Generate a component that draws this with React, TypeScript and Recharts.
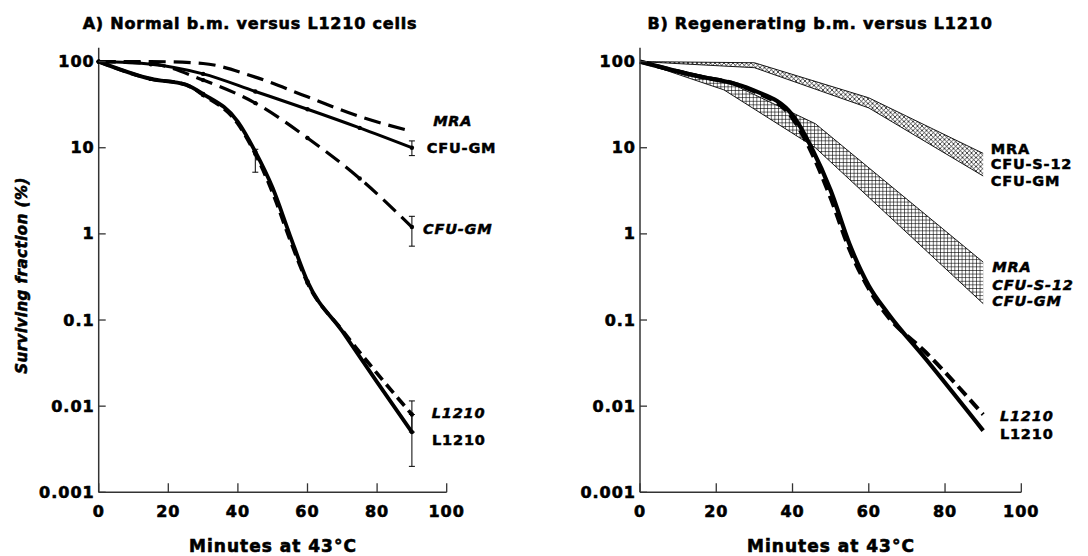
import React from 'react';
import { ComposedChart, Line, Area, XAxis, YAxis, ErrorBar, Scatter } from 'recharts';

// ---------- shared axis data ----------
const xTicks = [0, 20, 40, 60, 80, 100];
const xTickLabels = ['0', '20', '40', '60', '80', '100'];
const yTicks = [0.001, 0.01, 0.1, 1, 10, 100];
const yTickLabels = ['0.001', '0.01', '0.1', '1', '10', '100'];
const yDomain = [0.001, 145];

// ---------- Panel A: Normal b.m. versus L1210 cells ----------
const aTimesBM = [0, 15, 30, 45, 60, 75, 90];
const aMraDashed = [100, 100, 95, 66, 39, 23, 15.5];
const aCfuGmSolid = [100, 93, 72, 45, 28, 17, 10];
const aCfuGmSolidErr = [null, null, null, null, null, null, [8.1, 12]];
const aCfuGmDashed = [100, 95, 61, 33, 13, 4.4, 1.2];
const aCfuGmDashedErr = [null, null, null, null, null, null, [0.72, 1.6]];
const aTimesL1210 = [0, 15, 25, 30, 40, 45, 50, 55, 60, 70, 80, 90];
const aL1210Solid = [100, 63, 54, 42, 20, 9, 3.4, 0.95, 0.28, 0.074, 0.019, 0.005];
const aL1210SolidErr = [null, null, null, null, null, [5.2, 9.6], null, null, null, null, null, [0.002, 0.008]];
const aL1210Dashed = [100, 63, 54, 41, 19, 8.5, 3.0, 0.85, 0.27, 0.076, 0.024, 0.008];
const aL1210DashedErr = [null, null, null, null, null, null, null, null, null, null, null, [0.005, 0.0115]];

const aLabelText = ['MRA', 'CFU-GM', 'CFU-GM', 'L1210', 'L1210'];
const aLabelItalic = [true, false, true, true, false];
const aLabelX = [96.1, 94.3, 93.2, 95.7, 95.8];
const aLabelY = [20.3, 9.84, 1.14, 0.0083, 0.0041];

// ---------- Panel B: Regenerating b.m. versus L1210 ----------
const bUpperTimes = [0, 30, 60, 90];
const bUpperTop = [100, 97, 38, 8.6];
const bUpperBottom = [100, 85, 29, 4.7];
const bLowerTimes = [0, 22, 46, 90];
const bLowerTop = [100, 61, 19, 0.47];
const bLowerBottom = [100, 47, 10, 0.155];
const bTimesL1210 = [0, 15, 25, 30, 40, 45, 50, 55, 60, 65, 75, 90];
const bL1210Solid = [100, 68, 55, 46, 24, 10, 3.2, 0.75, 0.25, 0.12, 0.035, 0.0052];
const bL1210Dashed = [100, 68, 55, 45, 22, 8.8, 2.6, 0.65, 0.23, 0.11, 0.042, 0.008];

const bLabelText = ['MRA', 'CFU-S-12', 'CFU-GM', 'MRA', 'CFU-S-12', 'CFU-GM', 'L1210', 'L1210'];
const bLabelItalic = [false, false, false, true, true, true, true, false];
const bLabelX = [92.0, 92.0, 92.0, 92.4, 92.4, 92.4, 94.4, 94.4];
const bLabelY = [9.59, 6.44, 4.13, 0.41, 0.257, 0.168, 0.0077, 0.0047];

// ---------- builders ----------
type Bound = number[] | null;
const buildRows = (xs: number[], ys: number[], errs?: Bound[]) =>
  xs.map((x, i) => {
    const e = errs ? errs[i] : null;
    return { x, y: ys[i], err: e ? [ys[i] - e[0], e[1] - ys[i]] : undefined };
  });
const buildBand = (xs: number[], lo: number[], hi: number[]) =>
  xs.map((x, i) => ({ x, range: [lo[i], hi[i]] }));
const buildLabels = (t: string[], it: boolean[], xs: number[], ys: number[]) =>
  t.map((text, i) => ({ text, italic: it[i], x: xs[i], y: ys[i] }));

const FONT = '"DejaVu Sans", "Liberation Sans", Arial, sans-serif';
const AXIS_COLOR = '#333';

const YTick = (props: any) => {
  const { x, y, payload } = props;
  const idx = yTicks.indexOf(payload.value);
  return (
    <g>
      <line x1={x} x2={x + 7} y1={y} y2={y} stroke={AXIS_COLOR} strokeWidth={1.3} />
      <text
        x={x - 4}
        y={y}
        textAnchor="end"
        dominantBaseline="central"
        fontFamily={FONT}
        fontWeight="bold"
        fontSize={16}
        letterSpacing={1}
        fill="#000"
        stroke="#000"
        strokeWidth={0.6}
      >
        {idx >= 0 ? yTickLabels[idx] : payload.value}
      </text>
    </g>
  );
};

const XTick = (props: any) => {
  const { x, y, payload } = props;
  const idx = xTicks.indexOf(payload.value);
  return (
    <g>
      <line x1={x} x2={x} y1={y} y2={y - 9} stroke={AXIS_COLOR} strokeWidth={1.3} />
      <text
        x={x}
        y={y + 19}
        textAnchor="middle"
        dominantBaseline="central"
        fontFamily={FONT}
        fontWeight="bold"
        fontSize={16}
        letterSpacing={1}
        fill="#000"
        stroke="#000"
        strokeWidth={0.6}
      >
        {idx >= 0 ? xTickLabels[idx] : payload.value}
      </text>
    </g>
  );
};

const SideLabel = (props: any) => {
  const { cx, cy, payload } = props;
  if (cx == null || cy == null || !payload) return <g />;
  return (
    <text
      x={cx}
      y={cy}
      textAnchor="start"
      dominantBaseline="central"
      fontFamily={FONT}
      fontWeight="bold"
      fontStyle={payload.italic ? 'italic' : 'normal'}
      fontSize={14.5}
      letterSpacing={0.8}
      fill="#000"
      stroke="#000"
      strokeWidth={0.5}
    >
      {payload.text}
    </text>
  );
};

const SmallDot = (props: any) => {
  const { cx, cy, payload } = props;
  if (cx == null || cy == null || !payload || payload.x % 15 !== 0) return <g />;
  return <circle cx={cx} cy={cy} r={2.2} fill="#000" />;
};

const PanelA = () => (
  <ComposedChart
    width={544}
    height={556}
    margin={{ top: 47.7, right: 97.3, bottom: 3.7, left: 0 }}
  >
    <XAxis
      dataKey="x"
      type="number"
      domain={[0, 100]}
      ticks={xTicks}
      height={60}
      tickSize={0}
      tickMargin={0}
      tickLine={false}
      tick={<XTick />}
      axisLine={{ stroke: AXIS_COLOR, strokeWidth: 1.5 }}
    />
    <YAxis
      type="number"
      scale="log"
      domain={yDomain}
      ticks={yTicks}
      width={98.7}
      tickSize={0}
      tickMargin={0}
      tickLine={false}
      tick={<YTick />}
      axisLine={{ stroke: AXIS_COLOR, strokeWidth: 1.5 }}
    />
    <Line
      data={buildRows(aTimesBM, aMraDashed)}
      dataKey="y"
      type="monotone"
      stroke="#000"
      strokeWidth={3.2}
      strokeDasharray="17 8"
      dot={false}
      isAnimationActive={false}
    />
    <Line
      data={buildRows(aTimesBM, aCfuGmSolid, aCfuGmSolidErr)}
      dataKey="y"
      type="monotone"
      stroke="#000"
      strokeWidth={3}
      dot={<SmallDot />}
      isAnimationActive={false}
    >
      <ErrorBar dataKey="err" direction="y" width={3} stroke="#000" strokeWidth={1} />
    </Line>
    <Line
      data={buildRows(aTimesBM, aCfuGmDashed, aCfuGmDashedErr)}
      dataKey="y"
      type="monotone"
      stroke="#000"
      strokeWidth={3.2}
      strokeDasharray="17 8"
      dot={<SmallDot />}
      isAnimationActive={false}
    >
      <ErrorBar dataKey="err" direction="y" width={3} stroke="#000" strokeWidth={1} />
    </Line>
    <Line
      data={buildRows(aTimesL1210, aL1210Dashed, aL1210DashedErr)}
      dataKey="y"
      type="monotone"
      stroke="#000"
      strokeWidth={3.6}
      strokeDasharray="11 6"
      dot={<SmallDot />}
      isAnimationActive={false}
    >
      <ErrorBar dataKey="err" direction="y" width={3} stroke="#000" strokeWidth={1} />
    </Line>
    <Line
      data={buildRows(aTimesL1210, aL1210Solid, aL1210SolidErr)}
      dataKey="y"
      type="monotone"
      stroke="#000"
      strokeWidth={3.8}
      dot={<SmallDot />}
      isAnimationActive={false}
    >
      <ErrorBar dataKey="err" direction="y" width={3} stroke="#000" strokeWidth={1} />
    </Line>
    <Scatter
      data={buildLabels(aLabelText, aLabelItalic, aLabelX, aLabelY)}
      dataKey="y"
      shape={<SideLabel />}
      isAnimationActive={false}
    />
  </ComposedChart>
);

const PanelB = () => (
  <ComposedChart
    width={544}
    height={556}
    margin={{ top: 47.7, right: 66.7, bottom: 3.7, left: 0 }}
  >
    <defs>
      <pattern id="hatchDiag" width="4.5" height="4.5" patternUnits="userSpaceOnUse">
        <rect width="4.5" height="4.5" fill="#fff" />
        <path d="M0,0 L4.5,4.5 M4.5,0 L0,4.5" stroke="#000" strokeWidth="0.7" />
      </pattern>
      <pattern id="hatchGrid" width="3.6" height="3.6" patternUnits="userSpaceOnUse">
        <rect width="3.6" height="3.6" fill="#fff" />
        <path d="M0,0.3 L3.6,0.3 M0.3,0 L0.3,3.6" stroke="#000" strokeWidth="0.7" />
      </pattern>
    </defs>
    <XAxis
      dataKey="x"
      type="number"
      domain={[0, 100]}
      ticks={xTicks}
      height={60}
      tickSize={0}
      tickMargin={0}
      tickLine={false}
      tick={<XTick />}
      axisLine={{ stroke: AXIS_COLOR, strokeWidth: 1.5 }}
    />
    <YAxis
      type="number"
      scale="log"
      domain={yDomain}
      ticks={yTicks}
      width={96}
      tickSize={0}
      tickMargin={0}
      tickLine={false}
      tick={<YTick />}
      axisLine={{ stroke: AXIS_COLOR, strokeWidth: 1.5 }}
    />
    <Area
      data={buildBand(bUpperTimes, bUpperBottom, bUpperTop)}
      dataKey="range"
      type="linear"
      stroke="#000"
      strokeWidth={0.9}
      fill="url(#hatchDiag)"
      fillOpacity={1}
      isAnimationActive={false}
    />
    <Area
      data={buildBand(bLowerTimes, bLowerBottom, bLowerTop)}
      dataKey="range"
      type="linear"
      stroke="#000"
      strokeWidth={0.9}
      fill="url(#hatchGrid)"
      fillOpacity={1}
      isAnimationActive={false}
    />
    <Line
      data={buildRows(bTimesL1210, bL1210Dashed)}
      dataKey="y"
      type="monotone"
      stroke="#000"
      strokeWidth={4}
      strokeDasharray="12 6"
      dot={false}
      isAnimationActive={false}
    />
    <Line
      data={buildRows(bTimesL1210, bL1210Solid)}
      dataKey="y"
      type="monotone"
      stroke="#000"
      strokeWidth={4.2}
      dot={false}
      isAnimationActive={false}
    />
    <Scatter
      data={buildLabels(bLabelText, bLabelItalic, bLabelX, bLabelY)}
      dataKey="y"
      shape={<SideLabel />}
      isAnimationActive={false}
    />
  </ComposedChart>
);

const titleStyle: React.CSSProperties = {
  position: 'absolute',
  fontFamily: FONT,
  fontWeight: 'bold',
  fontSize: 16,
  lineHeight: '16px',
  letterSpacing: 0.8,
  textAlign: 'center',
  whiteSpace: 'nowrap',
  color: '#000',
  WebkitTextStroke: '0.6px #000',
};

const axisTitleStyle: React.CSSProperties = {
  ...titleStyle,
  fontSize: 17,
  lineHeight: '17px',
  letterSpacing: 1,
};

export default function App() {
  return (
    <div
      style={{
        position: 'absolute',
        left: 0,
        top: 0,
        width: 1088,
        height: 556,
        background: '#fff',
        overflow: 'hidden',
      }}
    >
      <div style={{ position: 'absolute', left: 0, top: 0 }}>
        <PanelA />
      </div>
      <div style={{ position: 'absolute', left: 544, top: 0 }}>
        <PanelB />
      </div>
      <div style={{ ...titleStyle, left: 50, width: 400, top: 16 }}>
        A) Normal b.m. versus L1210 cells
      </div>
      <div style={{ ...titleStyle, left: 620, width: 400, top: 16 }}>
        B) Regenerating b.m. versus L1210
      </div>
      <div style={{ ...axisTitleStyle, left: 123, width: 300, top: 538 }}>
        Minutes at 43°C
      </div>
      <div style={{ ...axisTitleStyle, left: 681, width: 300, top: 538 }}>
        Minutes at 43°C
      </div>
      <div
        style={{
          ...titleStyle,
          fontSize: 15,
          lineHeight: '15px',
          letterSpacing: 0.5,
          fontStyle: 'italic',
          left: 22 - 150,
          width: 300,
          top: 275 - 7.5,
          transform: 'rotate(-90deg)',
          transformOrigin: '50% 50%',
        }}
      >
        Surviving fraction (%)
      </div>
    </div>
  );
}
